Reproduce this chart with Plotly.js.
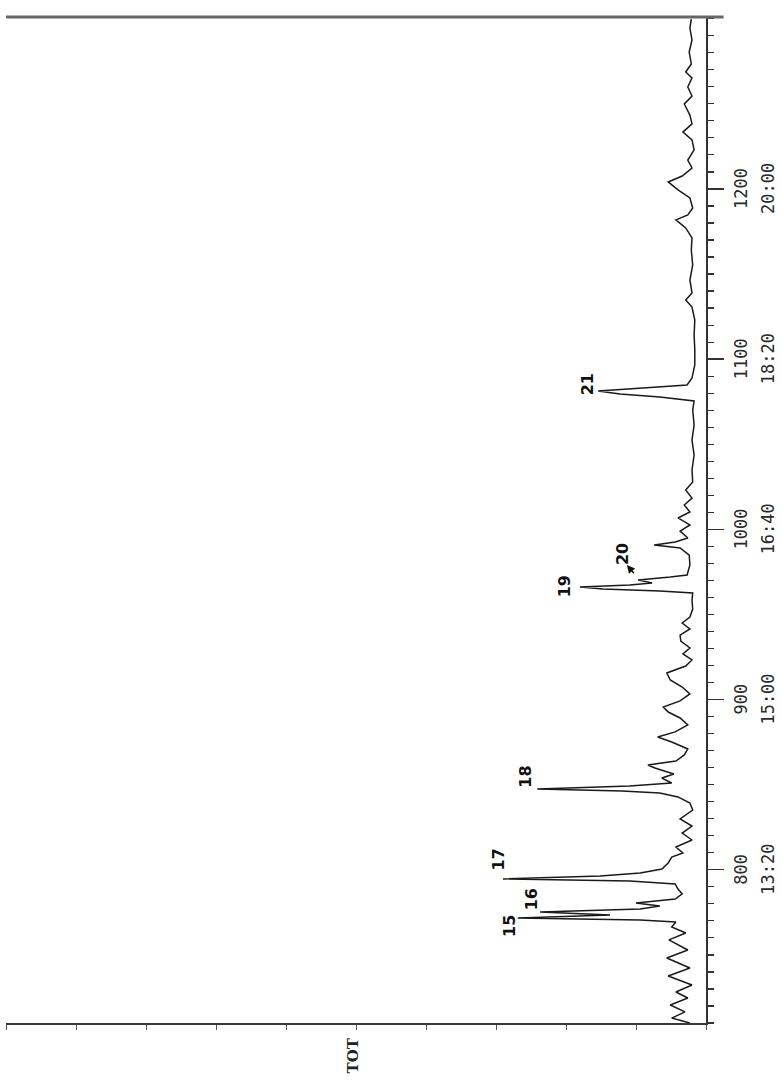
<!DOCTYPE html>
<html>
<head>
<meta charset="utf-8">
<script src="https://cdn.plot.ly/plotly-3.0.1.min.js"></script>
<style>html,body{margin:0;padding:0;background:#fff;}#chart{width:782px;height:1080px;}</style>
</head>
<body>
<div id="chart"></div>
<script>
// Scan number (retention axis) of each trace vertex
const scans = [710.0,712.9,716.5,720.6,724.7,728.2,732.3,737.6,742.3,748.2,752.9,758.8,762.9,766.4,769.3,
770.5,771.7,773.4,775.2,777.0,778.7,780.5,782.8,785.8,788.7,791.7,793.4,794.6,796.4,798.1,
800.5,804.0,807.5,809.9,813.4,817.5,821.6,825.7,829.9,835.1,839.2,842.8,845.1,846.3,847.5,
849.2,851.0,853.9,856.3,859.8,861.6,863.9,867.5,871.0,875.1,878.0,881.0,885.1,889.2,892.7,
895.6,899.2,903.3,907.4,911.5,915.6,919.7,923.3,926.8,930.3,934.4,937.9,941.5,945.0,948.5,
953.2,958.5,962.6,963.8,965.0,966.1,967.3,968.5,970.3,972.0,973.2,979.1,984.9,989.1,990.8,
992.6,994.9,999.0,1002.6,1006.7,1010.2,1014.3,1018.4,1023.1,1027.8,1034.9,1043.7,1052.5,1061.3,1070.1,
1075.4,1077.8,1079.5,1081.3,1083.1,1084.8,1088.9,1096.6,1105.4,1114.2,1123.0,1130.6,1134.8,1138.9,1146.5,
1155.3,1164.1,1171.2,1177.1,1181.8,1184.7,1188.8,1194.7,1199.4,1204.1,1207.6,1212.3,1217.0,1222.9,1228.8,
1233.4,1238.2,1243.4,1249.9,1254.6,1259.9,1265.2,1268.7,1273.4,1280.4,1287.5,1294.5,1299.8];
// Total ion current, % of full scale
const intensity = [2.3,4.9,3.0,5.1,2.6,4.3,2.0,5.4,2.3,5.6,2.6,5.3,2.9,4.9,4.3,
9.4,26.9,13.7,23.7,9.4,6.6,10.0,4.4,3.4,4.0,4.4,10.9,29.0,15.1,9.4,
6.3,5.4,4.9,3.3,4.3,2.0,3.4,2.0,3.7,1.9,2.3,4.0,6.6,12.0,24.1,
10.9,4.9,6.3,4.6,7.3,8.3,4.3,3.1,2.6,4.9,6.9,4.4,2.6,3.7,5.4,
6.1,3.7,2.3,3.4,5.1,5.6,2.9,2.0,3.3,2.3,3.6,3.7,2.3,3.4,2.3,
1.9,2.0,1.9,6.6,14.7,18.0,10.9,7.7,9.7,5.1,2.7,2.3,2.4,3.7,7.4,
4.4,2.6,3.7,2.3,4.0,2.3,3.1,2.0,2.9,1.9,2.0,1.7,2.0,1.7,1.9,
1.7,6.6,12.3,15.4,8.7,2.7,2.0,1.6,1.6,1.7,1.6,2.0,2.9,2.0,2.3,
1.9,2.1,2.0,2.9,4.3,2.6,1.9,2.3,4.0,5.4,3.4,2.0,2.6,1.7,2.0,
3.3,2.0,2.3,3.1,2.0,2.6,2.0,2.9,2.1,2.4,2.0,2.3,2.1];

// Scan-axis tick labels (scan number and retention time)
const tickVals = [800, 900, 1000, 1100, 1200];
const tickNums = ['800', '900', '1000', '1100', '1200'];
const tickTimes = ['13:20', '15:00', '16:40', '18:20', '20:00'];

// Hand-written peak numbers: label, intensity position, scan position
const peakLabels = ['15', '16', '17', '18', '19', '20', '21'];
const peakLabelI = [28.0, 24.9, 29.6, 25.9, 20.3, 12.0, 17.0];
const peakLabelS = [767.0, 782.5, 806.0, 854.5, 966.5, 985.5, 1085.2];

const trace = {
  type: 'scatter', mode: 'lines',
  x: intensity, y: scans,
  line: {color: '#1a1a1a', width: 1.5},
  hoverinfo: 'skip'
};

const annotations = [];
tickVals.forEach((v, i) => {
  annotations.push({xref: 'paper', x: 1, xshift: 35, yref: 'y', y: v, text: tickNums[i],
    showarrow: false, textangle: -90, xanchor: 'center', yanchor: 'middle',
    font: {family: 'DejaVu Sans Mono', size: 17, color: '#2a2a2a'}});
  annotations.push({xref: 'paper', x: 1, xshift: 62, yref: 'y', y: v, text: tickTimes[i],
    showarrow: false, textangle: -90, xanchor: 'center', yanchor: 'middle',
    font: {family: 'DejaVu Sans Mono', size: 17, color: '#2a2a2a'}});
});
peakLabels.forEach((t, i) => {
  annotations.push({xref: 'x', x: peakLabelI[i], yref: 'y', y: peakLabelS[i], text: t,
    showarrow: false, textangle: -90, xanchor: 'center', yanchor: 'middle',
    font: {family: 'DejaVu Sans', size: 16, color: '#111', weight: 'bold'}});
});
// arrow next to peak 20
annotations.push({xref: 'x', x: 11.3, yref: 'y', y: 979.1, text: ' ', showarrow: true,
  ax: 10, ay: 12, arrowhead: 2, arrowsize: 1, arrowwidth: 1.6, arrowcolor: '#111', standoff: 0});
// intensity axis name
annotations.push({xref: 'x', x: 50.5, yref: 'paper', y: 0, yshift: -33, text: 'TOT',
  showarrow: false, textangle: -90, xanchor: 'center', yanchor: 'middle',
  font: {family: 'DejaVu Serif', size: 15, color: '#222', weight: 'bold'}});

const layout = {
  width: 782, height: 1080,
  margin: {l: 6, r: 76, t: 17, b: 57},
  paper_bgcolor: '#fff', plot_bgcolor: '#fff',
  showlegend: false,
  xaxis: {range: [100, 0], showgrid: false, zeroline: false, showline: true,
    linecolor: '#3a3a3a', linewidth: 2, ticks: 'outside', ticklen: 5, tickwidth: 1,
    tickcolor: '#555', tickmode: 'array', tickvals: [0,10,20,30,40,50,60,70,80,90,100],
    showticklabels: false},
  yaxis: {range: [710, 1301], side: 'right', showgrid: false, zeroline: false, showline: true,
    linecolor: '#333', linewidth: 1.5, ticks: 'outside', ticklen: 16, tickwidth: 1.3,
    tickcolor: '#333', tickmode: 'array', tickvals: tickVals, showticklabels: false,
    minor: {tickmode: 'linear', tick0: 0, dtick: 10, ticks: 'outside', ticklen: 6,
      tickwidth: 1.2, tickcolor: '#333'}},
  shapes: [{type: 'line', xref: 'paper', yref: 'paper', x0: 0, x1: 1.025, y0: 1, y1: 1,
    line: {color: '#666', width: 3}}],
  annotations: annotations
};

Plotly.newPlot('chart', [trace], layout, {staticPlot: true, displayModeBar: false});
</script>
</body>
</html>
